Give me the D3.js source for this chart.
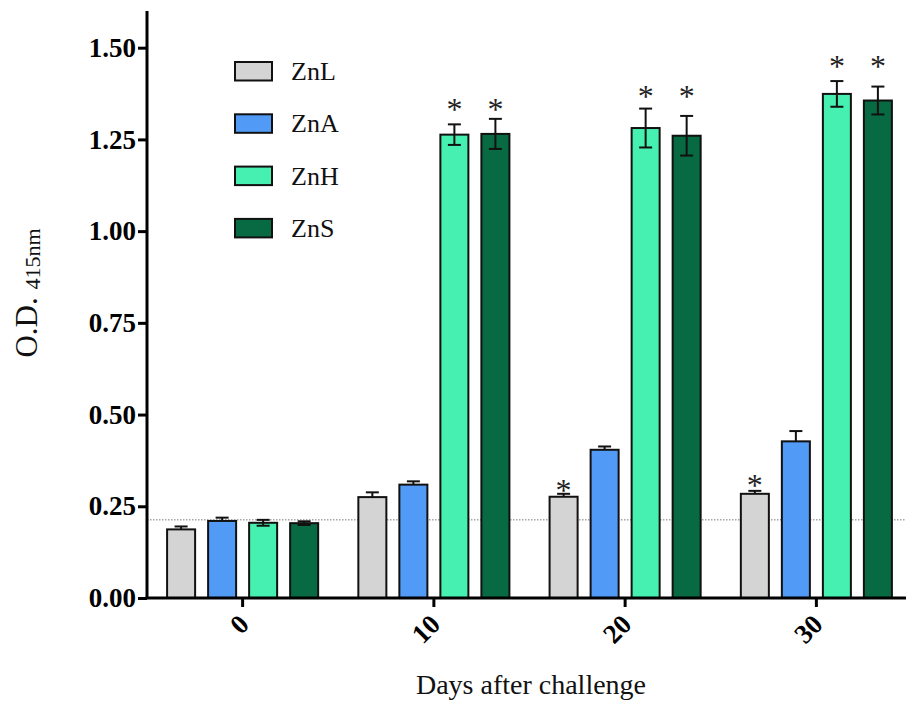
<!DOCTYPE html>
<html>
<head>
<meta charset="utf-8">
<script src="https://cdn.jsdelivr.net/npm/d3@7"></script>
<style>
  html, body { margin: 0; padding: 0; background: #fff; }
  svg { display: block; }
  svg text { font-family: 'Liberation Serif', 'Times New Roman', serif; }
</style>
</head>
<body>
<script>
'use strict';

// days after challenge (x categories)
const days = ['0', '10', '20', '30'];
const groups = ['ZnL', 'ZnA', 'ZnH', 'ZnS'];

// mean O.D. 415nm per group, one value per day
const znL = [0.187, 0.275, 0.276, 0.284];
const znA = [0.210, 0.309, 0.404, 0.427];
const znH = [0.205, 1.263, 1.281, 1.374];
const znS = [0.204, 1.265, 1.260, 1.356];

// standard errors
const znLErr = [0.008, 0.013, 0.008, 0.008];
const znAErr = [0.009, 0.009, 0.009, 0.028];
const znHErr = [0.008, 0.028, 0.053, 0.035];
const znSErr = [0.005, 0.041, 0.054, 0.038];

// significance stars: group, day, height (O.D.)
const starGroup = ['ZnL', 'ZnL', 'ZnH', 'ZnS', 'ZnH', 'ZnS', 'ZnH', 'ZnS'];
const starDay   = ['20', '30', '10', '10', '20', '20', '30', '30'];
const starLevel = [0.311, 0.325, 1.350, 1.350, 1.385, 1.385, 1.467, 1.467];

// baseline reference line (dotted)
const cutoff = 0.213;

const yTicks = [0, 0.25, 0.5, 0.75, 1.0, 1.25, 1.5];

const colors = {ZnL: '#d4d4d4', ZnA: '#519bf6', ZnH: '#46f0b0', ZnS: '#076a42'};
const lowerErr = {ZnL: false, ZnA: false, ZnH: true, ZnS: true};

const series = [
  {name: 'ZnL', values: znL, errs: znLErr},
  {name: 'ZnA', values: znA, errs: znAErr},
  {name: 'ZnH', values: znH, errs: znHErr},
  {name: 'ZnS', values: znS, errs: znSErr}
];

const width = 906, height = 703;
const serif = "'Liberation Serif', 'Times New Roman', serif";

const svg = d3.select('body').append('svg')
  .attr('width', width)
  .attr('height', height)
  .attr('viewBox', [0, 0, width, height]);

const x = d3.scaleBand().domain(days).range([147, 912]);
const xi = d3.scaleBand().domain(groups).range([0, x.bandwidth()])
  .paddingInner(0.317).paddingOuter(0.49);
const y = d3.scaleLinear().domain([0, 1.6]).range([598, 11]);

// flatten to one record per bar
const bars = [];
series.forEach(s => {
  days.forEach((d, i) => {
    bars.push({group: s.name, day: d, value: s.values[i], err: s.errs[i]});
  });
});

// dotted cutoff line
svg.append('line')
  .attr('x1', 147).attr('x2', width)
  .attr('y1', y(cutoff)).attr('y2', y(cutoff))
  .attr('stroke', '#777')
  .attr('stroke-width', 1)
  .attr('stroke-dasharray', '1.5,1.5');

// bars
svg.append('g').selectAll('rect')
  .data(bars)
  .join('rect')
    .attr('x', d => x(d.day) + xi(d.group))
    .attr('y', d => y(d.value))
    .attr('width', xi.bandwidth())
    .attr('height', d => y(0) - y(d.value))
    .attr('fill', d => colors[d.group])
    .attr('stroke', '#111')
    .attr('stroke-width', 2);

// error bars
const cap = 6.5;
const eb = svg.append('g')
  .attr('stroke', '#111')
  .attr('stroke-width', 2);
bars.forEach(d => {
  const cx = x(d.day) + xi(d.group) + xi.bandwidth() / 2;
  const top = y(d.value + d.err);
  const bot = lowerErr[d.group] ? y(d.value - d.err) : y(d.value);
  eb.append('line').attr('x1', cx).attr('x2', cx).attr('y1', top).attr('y2', bot);
  eb.append('line').attr('x1', cx - cap).attr('x2', cx + cap).attr('y1', top).attr('y2', top);
  if (lowerErr[d.group]) {
    eb.append('line').attr('x1', cx - cap).attr('x2', cx + cap).attr('y1', bot).attr('y2', bot);
  }
});

// stars
svg.append('g').selectAll('text')
  .data(starGroup.map((g, i) => ({group: g, day: starDay[i], level: starLevel[i]})))
  .join('text')
    .attr('x', d => x(d.day) + xi(d.group) + xi.bandwidth() / 2)
    .attr('y', d => y(d.level) + 17)
    .attr('text-anchor', 'middle')
    .style('font-family', serif)
    .attr('font-size', 32)
    .attr('fill', '#222')
    .text('*');

// y axis
const yAxis = svg.append('g')
  .attr('transform', 'translate(147,0)')
  .call(d3.axisLeft(y).tickValues(yTicks).tickFormat(d3.format('.2f')).tickSize(9).tickPadding(2));
yAxis.attr('font-family', null);
yAxis.select('.domain').attr('stroke', '#000').attr('stroke-width', 3).attr('d', `M0,${y(1.6)}V${y(0)}`);
yAxis.selectAll('.tick line').attr('stroke', '#000').attr('stroke-width', 3);
yAxis.selectAll('.tick text')
  .style('font-family', serif)
  .style('font-weight', 'bold')
  .style('font-size', '27px')
  .attr('fill', '#000');

// x axis
const xAxis = svg.append('g')
  .attr('transform', `translate(0,${y(0)})`)
  .call(d3.axisBottom(x).tickSize(9).tickSizeOuter(0));
xAxis.attr('font-family', null);
xAxis.select('.domain').attr('stroke', '#000').attr('stroke-width', 3).attr('d', `M145.5,0H${width}`);
xAxis.selectAll('.tick line').attr('stroke', '#000').attr('stroke-width', 3);
xAxis.selectAll('.tick text')
  .style('font-family', serif)
  .style('font-weight', 'bold')
  .style('font-size', '27px')
  .attr('fill', '#000')
  .attr('text-anchor', 'end')
  .attr('dy', null)
  .attr('y', null)
  .attr('transform', 'translate(8,28) rotate(-45)');

// axis titles
svg.append('text')
  .attr('x', 531)
  .attr('y', 694)
  .attr('text-anchor', 'middle')
  .style('font-family', serif)
  .attr('font-size', 28)
  .attr('fill', '#111')
  .text('Days after challenge');

const yTitle = svg.append('text')
  .attr('transform', 'translate(37,293) rotate(-90)')
  .attr('text-anchor', 'middle')
  .style('font-family', serif)
  .attr('font-size', 31)
  .attr('fill', '#111');
yTitle.append('tspan').text('O.D. ');
yTitle.append('tspan').attr('font-size', 22).attr('dy', 3).text('415nm');

// legend
const legend = svg.append('g').attr('transform', 'translate(235,62)');
const row = legend.selectAll('g')
  .data(groups)
  .join('g')
    .attr('transform', (d, i) => `translate(0,${i * 52.3})`);
row.append('rect')
  .attr('width', 37).attr('height', 18.5)
  .attr('fill', d => colors[d])
  .attr('stroke', '#111')
  .attr('stroke-width', 2);
row.append('text')
  .attr('x', 56)
  .attr('y', 18)
  .style('font-family', serif)
  .attr('font-size', 26)
  .attr('fill', '#111')
  .text(d => d);
</script>
</body>
</html>
